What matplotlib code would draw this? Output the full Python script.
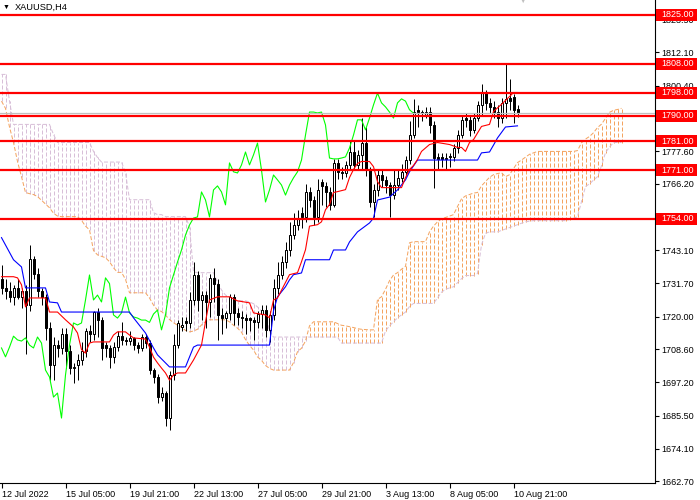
import numpy as np
import matplotlib
matplotlib.use('Agg')
import matplotlib.pyplot as plt
from matplotlib.transforms import blended_transform_factory
from matplotlib.patches import Rectangle

plt.rcParams['font.family'] = ['Liberation Sans', 'DejaVu Sans']

symbol = 'XAUUSD,H4'
date_ticks = [0, 16, 32, 48, 64, 80, 96, 112, 128]
date_labels = ['12 Jul 2022', '15 Jul 05:00', '19 Jul 21:00', '22 Jul 13:00',
               '27 Jul 05:00', '29 Jul 21:00', '3 Aug 13:00', '8 Aug 05:00',
               '10 Aug 21:00']
price_ticks = [1662.70, 1674.10, 1685.50, 1697.20, 1708.60, 1720.00, 1731.70,
               1743.10, 1754.50, 1766.20, 1777.60, 1789.00, 1800.40, 1812.10,
               1823.50]
levels = [1825.0, 1808.0, 1798.0, 1790.0, 1781.0, 1771.0, 1754.0]

# H4 candles, one per bar
opens = [1733, 1730, 1729, 1727, 1730, 1727, 1729, 1724, 1740, 1735,
         1729, 1727, 1716, 1703, 1710, 1709, 1714, 1708, 1702, 1703,
         1705, 1708, 1715, 1714, 1721.5, 1719, 1710, 1709, 1706, 1709.4,
         1713.2, 1712, 1711.5, 1712.6, 1710.1, 1709.1, 1712.9, 1710.8, 1701.4, 1699,
         1692, 1693.4, 1684.7, 1699.7, 1710.1, 1716.5, 1718.5, 1717.8, 1725.8, 1734.5,
         1725.8, 1727.5, 1725.1, 1733.5, 1731.5, 1720.6, 1719.5, 1721.3, 1726.8, 1721.3,
         1719.9, 1719.5, 1719.5, 1718.8, 1718, 1720.9, 1722.3, 1715.4, 1720.6, 1730,
         1734.5, 1739, 1743.2, 1748.4, 1751.9, 1756, 1754.7, 1763.4, 1760.6, 1754.7,
         1767, 1765.5, 1763.4, 1758.9, 1773.5, 1770.4, 1770, 1772.8, 1777.3, 1772.8,
         1776.3, 1780.4, 1771, 1759.9, 1764.1, 1769.3, 1767.6, 1765.8, 1762.3, 1765.8,
         1768.3, 1770.4, 1774.5, 1783.2, 1792, 1791.2, 1790.2, 1791.2, 1786.7, 1775.6,
         1775.4, 1774.9, 1776, 1775.6, 1778.7, 1783.2, 1789, 1788.5, 1785, 1789.1,
         1793.7, 1797.8, 1794.4, 1793, 1791.2, 1789.1, 1794.4, 1796, 1796.5, 1792.3]
highs = [1738, 1733, 1732, 1731, 1733, 1730, 1731, 1745, 1741, 1737,
         1730, 1728, 1718, 1713, 1712, 1716, 1716, 1710, 1704, 1707,
         1711, 1716, 1717, 1722, 1723, 1720, 1711, 1710, 1711, 1715,
         1718, 1713, 1715, 1713, 1711, 1714, 1714, 1712, 1702, 1700,
         1695.5, 1694, 1701, 1714, 1719, 1720, 1720, 1728.5, 1739, 1736,
         1729, 1729, 1735, 1737, 1733, 1723, 1722, 1728, 1728, 1723,
         1722, 1721, 1720, 1720, 1722, 1724, 1724, 1722, 1733, 1739,
         1741, 1746, 1753, 1756, 1757, 1758, 1766, 1765, 1762, 1768,
         1768, 1767, 1765, 1775, 1775, 1772, 1774, 1781, 1781, 1778,
         1789, 1786, 1772, 1766, 1771, 1771, 1769, 1767, 1771, 1771,
         1773, 1776, 1788, 1795.6, 1793.5, 1792, 1793, 1793, 1788, 1777,
         1777, 1777, 1777, 1780, 1785, 1790, 1791, 1790, 1791, 1795,
         1800.8, 1799, 1796, 1795, 1793.5, 1796, 1807.8, 1802.6, 1797.5, 1793.5]
lows = [1728, 1726, 1725, 1724, 1726, 1723, 1707, 1722, 1733, 1727,
        1724, 1712, 1698, 1698, 1706, 1707, 1702, 1700, 1697, 1698,
        1703, 1706, 1711, 1712, 1713, 1705, 1706, 1702, 1704, 1708,
        1710, 1710, 1710, 1708.5, 1707.5, 1708, 1709, 1700, 1697, 1690,
        1690.5, 1682, 1680.5, 1698, 1709, 1715, 1715, 1716, 1724, 1722,
        1719, 1716, 1720, 1725, 1712, 1714, 1716, 1719, 1717, 1717,
        1716, 1714, 1715, 1712, 1716, 1716, 1713, 1711, 1719, 1728,
        1733, 1737, 1741, 1747, 1750, 1751, 1753, 1758, 1752, 1753,
        1759, 1758, 1757, 1758, 1768, 1768, 1768.5, 1771, 1771, 1771,
        1771, 1769, 1758, 1754.7, 1762, 1765, 1763, 1754.8, 1761, 1764,
        1767, 1769, 1773, 1782, 1786, 1788, 1789, 1784, 1764.9, 1771,
        1772, 1771, 1772, 1774, 1777, 1782, 1786, 1783, 1784, 1788,
        1790, 1792, 1791, 1789, 1786, 1787.5, 1789, 1792, 1787.5, 1789.5]
closes = [1730, 1729, 1727, 1730, 1727, 1729, 1724, 1740, 1735, 1729,
          1727, 1716, 1703, 1710, 1709, 1714, 1708, 1702, 1702.5, 1705,
          1708, 1715, 1714, 1721.5, 1719, 1709, 1709.1, 1706, 1709.4, 1713.2,
          1711.9, 1711.5, 1712.6, 1710.1, 1709.1, 1712.9, 1710.8, 1701.4, 1699, 1692,
          1693.4, 1684.7, 1699.7, 1710.1, 1717.8, 1717.1, 1717.8, 1725.8, 1734.5, 1725.8,
          1727.5, 1725.1, 1733.5, 1731.5, 1720.6, 1719.5, 1721.3, 1726.8, 1721.3, 1719.9,
          1719.5, 1718.8, 1718.8, 1718, 1720.9, 1722.3, 1715.4, 1720.6, 1730, 1734.5,
          1739, 1743.2, 1748.4, 1751.9, 1754.3, 1754.7, 1763.4, 1760.6, 1754.7, 1764.1,
          1765.5, 1763.4, 1758.9, 1773.5, 1770.4, 1770, 1772.8, 1777.3, 1772.8, 1776.3,
          1780.4, 1771, 1759.9, 1764.1, 1769.3, 1767.6, 1765.8, 1762.3, 1765.8, 1768.3,
          1770.4, 1774.5, 1783.2, 1791.2, 1791.2, 1790.9, 1791.2, 1786.7, 1775.2, 1774.9,
          1774.9, 1775.2, 1775.6, 1778.7, 1783.2, 1788.5, 1788.5, 1785, 1789.1, 1793.7,
          1797.8, 1794.4, 1793, 1791.2, 1789.1, 1794.4, 1795.8, 1795, 1792, 1790.8]

# Ichimoku: Tenkan-sen and Kijun-sen vertices (bar, price)
tenkan_bar = [0, 3, 4, 5, 6, 7, 11, 12, 14, 16, 18, 19, 20, 21, 22, 23, 27, 28, 29, 31,
              32, 33, 36, 37, 38, 39, 40, 41, 42, 43, 44, 46, 48, 50, 51, 52, 54, 57, 59, 62,
              63, 66, 67, 68, 69, 72, 74, 75, 76, 77, 79, 80, 81, 82, 83, 84, 86, 87, 88, 89,
              90, 92, 93, 94, 95, 100, 101, 102, 103, 104, 105, 107, 109, 112, 114, 115, 116, 117, 118, 120,
              122, 123, 125, 127, 128, 129]
tenkan = [1733.9, 1733.9, 1733.5, 1731.1, 1723.4, 1726.5, 1726.5, 1721.6, 1721.6, 1718.9,
          1716.4, 1714.3, 1708.5, 1707.3, 1710.8, 1711.2, 1711.2, 1713.6, 1714.7, 1714.7,
          1713.6, 1712.6, 1712.2, 1709.4, 1705.9, 1703.9, 1702.1, 1700.4, 1697.9, 1699.7,
          1700.4, 1700.4, 1704.9, 1710.1, 1718.2, 1725.8, 1726.9, 1726.9, 1725.5, 1724.8,
          1721.3, 1720.6, 1719.6, 1725.8, 1726.5, 1734.6, 1735.3, 1739.1, 1743.3, 1751.5,
          1752.0, 1753.0, 1757.2, 1759.0, 1763.2, 1763.5, 1764.2, 1768.4, 1771.2, 1773.3,
          1774.0, 1774.0, 1772.2, 1767.0, 1764.9, 1764.9, 1768.4, 1771.2, 1772.6, 1774.7,
          1777.5, 1779.9, 1780.6, 1779.9, 1778.9, 1778.9, 1777.5, 1780.6, 1781.6, 1786.2,
          1786.9, 1791.4, 1793.9, 1796.6, 1798.0, 1798.0]
kijun_bar = [0, 3, 5, 6, 11, 12, 14, 15, 32, 33, 36, 38, 39, 41, 42, 46, 48, 49, 67, 68,
             69, 71, 72, 73, 75, 76, 82, 83, 86, 87, 89, 92, 93, 94, 97, 99, 101, 102, 104, 119,
             120, 122, 123, 124, 126, 129]
kijun = [1747.5, 1739.8, 1737.3, 1730.0, 1730.0, 1725.1, 1724.8, 1721.6, 1721.6, 1719.6,
         1714.3, 1709.1, 1706.7, 1703.9, 1702.5, 1702.5, 1709.4, 1710.1, 1710.1, 1722.0,
         1726.9, 1730.4, 1732.8, 1734.6, 1735.2, 1739.8, 1739.8, 1743.2, 1743.2, 1746.0,
         1749.5, 1752.6, 1754.3, 1760.6, 1761.6, 1764.1, 1767.6, 1770.4, 1774.5, 1774.5,
         1777.0, 1777.3, 1779.7, 1782.2, 1786.0, 1786.4]
chikou_shift = 26

# Senkou spans (already shifted forward), one value per bar
span_a = [1795.0, 1792.5, 1786.0, 1780.6, 1774.0, 1768.7, 1763.2, 1762.8, 1762.5, 1761.8,
          1760.5, 1759.2, 1757.9, 1756.0, 1755.0, 1754.8, 1754.8, 1754.8, 1754.8, 1754.8,
          1753.5, 1751.5, 1750.2, 1743.0, 1741.5, 1741.0, 1740.5, 1739.1, 1737.0, 1735.4,
          1735.4, 1733.0, 1728.3, 1728.3, 1728.3, 1728.3, 1728.3, 1726.5, 1724.0, 1722.3,
          1721.8, 1720.5, 1719.0, 1717.9, 1717.0, 1716.3, 1715.2, 1714.7, 1715.0, 1715.6,
          1717.1, 1718.3, 1718.9, 1718.9, 1718.9, 1718.9, 1718.9, 1718.2, 1717.0, 1716.0,
          1714.6, 1712.0, 1710.0, 1708.4, 1706.0, 1704.8, 1703.0, 1702.0, 1701.4, 1701.4,
          1701.4, 1701.4, 1701.4, 1704.0, 1707.8, 1709.0, 1711.5, 1716.8, 1718.2, 1718.2,
          1718.2, 1718.2, 1718.2, 1718.2, 1717.6, 1717.0, 1716.8, 1716.5, 1716.2, 1715.8,
          1715.6, 1715.5, 1715.4, 1715.4, 1726.0, 1726.9, 1729.5, 1732.5, 1734.5, 1735.3,
          1736.5, 1737.5, 1745.7, 1746.1, 1746.1, 1746.1, 1746.1, 1749.5, 1751.5, 1753.0,
          1754.0, 1754.5, 1755.0, 1755.5, 1758.3, 1761.0, 1762.0, 1762.5, 1763.0, 1763.2,
          1765.5, 1767.0, 1768.5, 1769.4, 1769.8, 1770.1, 1768.7, 1769.4, 1771.5, 1773.6,
          1774.5, 1775.5, 1776.5, 1777.0, 1777.5, 1777.5, 1777.5, 1777.5, 1777.5, 1777.5,
          1777.5, 1777.5, 1777.5, 1777.5, 1777.8, 1780.5, 1781.8, 1782.7, 1784.0, 1785.8,
          1787.0, 1789.0, 1791.1, 1791.8, 1792.1, 1792.5]
span_b = [1804.3, 1804.3, 1795.0, 1786.9, 1786.9, 1786.9, 1786.9, 1786.9, 1786.9, 1786.9,
          1786.9, 1786.9, 1786.9, 1783.4, 1780.6, 1780.6, 1780.6, 1780.6, 1780.6, 1780.6,
          1780.6, 1780.6, 1780.6, 1777.5, 1775.4, 1773.8, 1773.8, 1773.8, 1773.8, 1773.8,
          1773.8, 1770.1, 1760.7, 1760.7, 1760.7, 1760.7, 1760.7, 1760.7, 1756.2, 1755.5,
          1755.5, 1754.8, 1754.8, 1754.8, 1754.8, 1754.8, 1754.8, 1751.3, 1735.6, 1735.3,
          1735.3, 1735.3, 1735.3, 1735.3, 1731.8, 1729.3, 1727.5, 1726.9, 1725.5, 1725.5,
          1725.5, 1725.5, 1725.1, 1724.5, 1723.4, 1722.0, 1720.6, 1715.0, 1712.9, 1712.9,
          1712.9, 1712.9, 1712.9, 1712.9, 1712.9, 1712.9, 1712.9, 1712.9, 1712.9, 1712.9,
          1712.9, 1712.9, 1712.9, 1712.9, 1712.9, 1710.8, 1710.8, 1710.8, 1710.8, 1710.8,
          1710.8, 1710.8, 1710.8, 1710.8, 1710.8, 1710.8, 1715.0, 1716.8, 1718.2, 1719.6,
          1720.6, 1721.6, 1723.5, 1724.6, 1724.6, 1724.6, 1724.6, 1724.6, 1724.6, 1726.5,
          1728.5, 1729.5, 1730.0, 1730.4, 1731.8, 1733.2, 1734.3, 1734.3, 1734.3, 1735.0,
          1745.0, 1749.0, 1749.5, 1749.5, 1749.5, 1750.0, 1750.5, 1751.0, 1751.5, 1752.0,
          1752.5, 1753.0, 1753.2, 1753.4, 1753.4, 1753.4, 1753.4, 1753.4, 1753.4, 1753.4,
          1753.4, 1753.4, 1753.8, 1754.2, 1754.8, 1760.0, 1765.3, 1766.2, 1767.5, 1768.7,
          1772.5, 1777.1, 1779.0, 1780.6, 1780.6, 1780.6]

sandy = '#F4A460'
thistle = '#D8BFD8'
dots = (0, (4, 2))
px = 0.72  # one pixel in points at 100 dpi

o = np.array(opens)
h = np.array(highs)
l = np.array(lows)
c = np.array(closes)
bars = np.arange(len(c))
a = np.array(span_a)
b = np.array(span_b)
cloud_bars = np.arange(len(a))

fig = plt.figure(figsize=(7, 5), dpi=100)
ax = fig.add_axes([0, 17 / 500, 655 / 700, 483 / 500])
# bars sit on pixel centres, 4 px apart
ax.set_xlim(-0.375, 163.375)
ax.set_ylim(1662.1, 1830.2)

# cloud: dotted histogram between the spans
bull = a >= b
lo = np.minimum(a, b)
hi = np.maximum(a, b)
ax.vlines(cloud_bars[bull], lo[bull], hi[bull], color=sandy, linestyle=dots,
          linewidth=px, zorder=1)
ax.vlines(cloud_bars[~bull], lo[~bull], hi[~bull], color=thistle, linestyle=dots,
          linewidth=px, zorder=1)
ax.plot(cloud_bars, a, color=sandy, lw=px, ls=dots, zorder=1.5)
ax.plot(cloud_bars, b, color=thistle, lw=px, ls=dots, zorder=1.5)

# candles
ax.vlines(bars, l, h, color='black', linewidth=px, zorder=3)
up = c >= o
ax.bar(bars, np.abs(c - o), bottom=np.minimum(o, c), width=0.5,
       color=np.where(up, 'white', 'black'), edgecolor='black', linewidth=px, zorder=4)

# indicator lines
ax.plot(bars[chikou_shift:] - chikou_shift, c[chikou_shift:], color='#00FF00', lw=0.8, zorder=5)
ax.plot(kijun_bar, kijun, color='#0000FF', lw=0.8, zorder=5)
ax.plot(tenkan_bar, tenkan, color='#FF0000', lw=0.8, zorder=5)

# bid line and levels
ax.axhline(c[-1], color='#C0C0C0', lw=0.9, zorder=6)
for lv in levels:
    ax.axhline(lv, color='#FF0000', lw=1.6, zorder=7)

ax.spines['top'].set_visible(False)
ax.spines['left'].set_visible(False)
ax.spines['right'].set_linewidth(0.8)
ax.spines['bottom'].set_linewidth(0.8)
ax.yaxis.tick_right()
ax.set_yticks(price_ticks, [f'{p:.2f}' for p in price_ticks])
ax.set_xticks(date_ticks, date_labels, ha='left')
ax.tick_params(axis='y', direction='out', length=3, width=0.8, pad=1.5, labelsize=6.5)
ax.tick_params(axis='x', direction='out', length=3.5, width=0.8, pad=1.5, labelsize=6.5)

# price labels for the levels
tr = blended_transform_factory(ax.transAxes, ax.transData)
box_h = 12 / 2.873
for lv in levels:
    ax.add_patch(Rectangle((1.0015, lv - box_h / 2), 41 / 655, box_h, transform=tr,
                           facecolor='#FF0000', edgecolor='none', clip_on=False, zorder=10))
    ax.text(1 + 6 / 655, lv, f'{lv:.2f}', transform=tr, color='white', fontsize=6.5,
            va='center', ha='left', clip_on=False, zorder=11)

# chart shift marker
ax.text(130.4, 1.0, '\u25bc', transform=blended_transform_factory(ax.transData, ax.transAxes),
        color='#C0C0C0', fontsize=9, ha='center', va='center', clip_on=False)

fig.text(3 / 700, 1 - 7 / 500, '\u25bc', fontsize=5, va='center', ha='left')
fig.text(15 / 700, 1 - 7.5 / 500, symbol, fontsize=6.7, va='center', ha='left')

fig.savefig('out.png', dpi=100)
